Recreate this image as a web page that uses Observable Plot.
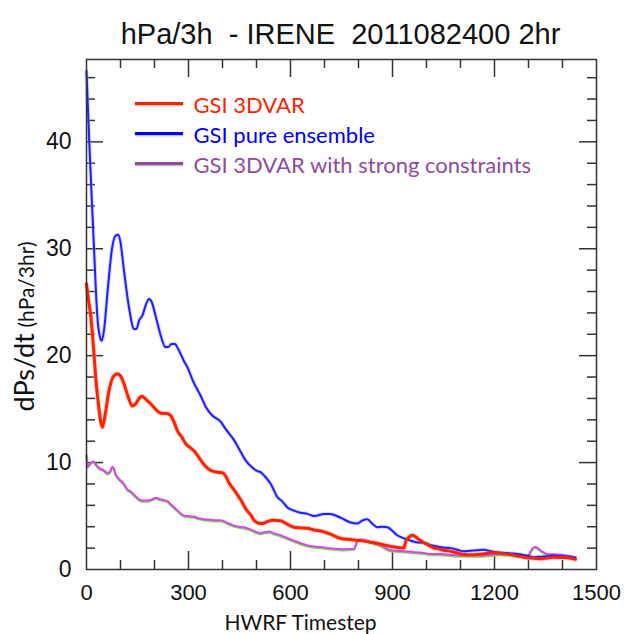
<!DOCTYPE html>
<html><head><meta charset="utf-8">
<script src="https://cdn.jsdelivr.net/npm/d3@7"></script>
<script src="https://cdn.jsdelivr.net/npm/@observablehq/plot@0.6"></script>
<style>
body{margin:0;background:#fff;}
#wrap{position:relative;width:624px;height:634px;overflow:hidden;background:#fff;}
.sw{position:absolute;height:3px;width:48px;box-shadow:0 1px 2px rgba(0,0,0,0.35);}
</style></head><body>
<div id="wrap"></div>
<script>
const titleText = "hPa/3h  - IRENE  2011082400 2hr";
const xLabel = "HWRF Timestep";
const yLabelMain = "dPs/dt";
const yLabelUnit = "(hPa/3hr)";
const seriesNames = ["GSI 3DVAR", "GSI pure ensemble", "GSI 3DVAR with strong constraints"];
const xTicks = [0, 300, 600, 900, 1200, 1500];
const yTicks = [0, 10, 20, 30, 40];

// [timestep, dPs/dt]
const gsi3dvar = [[0,26.7],[6,25.2],[13,23.6],[20,21],[27,18],[35,15.5],[42,13.8],[47,13.3],[55,14.5],[65,16.5],[78,18.0],[91,18.3],[100,18.1],[110,17.4],[122,16.2],[135,15.3],[145,15.5],[155,16.0],[163,16.2],[175,15.9],[189,15.5],[200,15.1],[213,14.7],[225,14.6],[238,14.6],[247,14.4],[253,14.1],[260,13.6],[267,13.0],[280,12.4],[292,11.75],[305,11.4],[316,11.1],[328,10.6],[341,10.0],[355,9.5],[370,9.2],[385,9.1],[400,9.05],[410,8.7],[419,8.1],[435,7.4],[454,6.5],[470,5.6],[483,5.1],[493,4.6],[505,4.35],[517,4.3],[530,4.45],[547,4.6],[571,4.55],[590,4.25],[610,3.95],[630,3.9],[650,3.85],[670,3.7],[689,3.6],[718,3.3],[748,2.9],[777,2.8],[806,2.7],[836,2.55],[855,2.45],[875,2.3],[904,2.1],[934,2.0],[937,2.4],[940,2.7],[948,3.0],[958,3.2],[968,3.05],[978,2.8],[990,2.55],[1002,2.35],[1022,2.0],[1032,1.95],[1050,1.8],[1071,1.7],[1090,1.55],[1110,1.4],[1130,1.38],[1149,1.4],[1175,1.5],[1198,1.6],[1220,1.5],[1247,1.4],[1270,1.25],[1296,1.1],[1315,1.05],[1335,1.0],[1355,1.08],[1374,1.15],[1395,1.12],[1414,1.1],[1438,0.95]];

const pureEnsemble = [[0,46.6],[8,40.1],[15,35],[22,30.1],[32,23.6],[40,21.7],[45,21.4],[52,22.5],[62,26],[75,30],[85,31.2],[93,31.3],[100,30.6],[110,28],[125,24.5],[140,22.5],[147,22.5],[155,23.3],[165,23.8],[175,24.8],[184,25.3],[192,25],[205,23.5],[220,21.7],[232,20.8],[240,20.8],[250,21.1],[260,21.1],[270,20.6],[285,19.6],[297,18.9],[315,17.5],[335,16.3],[351,15.2],[370,14.4],[395,13.8],[410,13.1],[434,12.1],[450,11.2],[468,10.2],[485,9.6],[503,9.2],[512,9.1],[525,8.7],[542,8.0],[561,6.8],[575,6.4],[591,5.8],[610,5.5],[630,5.3],[650,5.2],[669,5.0],[679,5.05],[698,5.2],[715,5.2],[733,5.05],[750,4.8],[777,4.4],[797,4.3],[812,4.6],[826,4.7],[840,4.3],[855,3.95],[870,4.0],[885,3.95],[900,3.6],[914,3.2],[935,2.9],[953,2.7],[970,2.55],[992,2.5],[1010,2.3],[1032,2.15],[1050,2.05],[1071,2.0],[1090,1.85],[1110,1.7],[1130,1.75],[1150,1.8],[1169,1.85],[1190,1.7],[1208,1.6],[1230,1.55],[1250,1.5],[1267,1.45],[1285,1.35],[1296,1.3],[1316,1.15],[1340,1.2],[1374,1.3],[1400,1.25],[1420,1.2],[1438,1.1]];

const strongConstraints = [[0,10.7],[3,9.6],[8,9.8],[14,10.0],[21,10.1],[28,9.8],[37,9.5],[50,9.3],[62,9.0],[70,9.2],[76,9.6],[80,9.5],[86,8.9],[95,8.5],[110,8.0],[120,7.5],[130,7.3],[143,6.9],[155,6.55],[165,6.45],[179,6.45],[192,6.55],[204,6.7],[215,6.6],[226,6.5],[238,6.4],[248,6.1],[258,5.8],[272,5.4],[287,5.05],[300,5.0],[316,4.95],[330,4.8],[346,4.7],[365,4.65],[380,4.6],[395,4.6],[415,4.35],[434,4.1],[450,4.0],[463,3.95],[478,3.8],[493,3.6],[505,3.45],[512,3.4],[525,3.5],[537,3.55],[550,3.4],[571,3.2],[590,2.95],[610,2.7],[630,2.45],[650,2.25],[670,2.15],[689,2.1],[710,2.0],[728,1.95],[750,1.9],[770,1.92],[787,1.95],[792,2.3],[797,2.7],[811,2.8],[825,2.7],[836,2.55],[850,2.4],[865,2.25],[880,2.0],[894,1.8],[915,1.75],[934,1.7],[955,1.65],[973,1.6],[992,1.55],[1012,1.45],[1041,1.45],[1071,1.35],[1100,1.3],[1130,1.3],[1159,1.3],[1190,1.38],[1218,1.45],[1245,1.38],[1267,1.3],[1290,1.2],[1296,1.15],[1303,1.5],[1311,1.95],[1320,2.1],[1328,2.0],[1335,1.8],[1345,1.6],[1355,1.45],[1375,1.42],[1394,1.4],[1415,1.3],[1438,1.15]];

const W = 624, H = 634, mL = 86, mR = 28, mT = 59, mB = 65;
const fw = W - mL - mR, fh = H - mT - mB;
const xMajor = [300, 600, 900, 1200];
const xMinor = d3.range(100, 1500, 100).filter(d => d % 300 !== 0);
const yMajor = [10, 20, 30, 40];
const yMinor = d3.range(2, 48, 2).filter(d => d % 10 !== 0);
const ink = "#333";
const labelFont = "Lato, 'Open Sans', sans-serif";
const colors = ["#ff2200", "#1e1eff", "#dd44ee"];
const legendColors = ["#ff2200", "#0000ff", "#8e4a9e"];
const legendBaselines = [112, 142, 172];

const line = (data, opts) => Plot.line(data, {x: d => d[0], y: d => d[1], curve: "monotone-x", ...opts});

const legendTexts = seriesNames.map((name, i) =>
  Plot.text([name], {frameAnchor: "top-left", text: d => d, fill: legendColors[i], textAnchor: "start", lineAnchor: "bottom",
    fontSize: 22, fontFamily: labelFont, dx: 193 - mL, dy: legendBaselines[i] - mT})
);

const chart = Plot.plot({
  width: W, height: H,
  marginLeft: mL, marginRight: mR, marginTop: mT, marginBottom: mB,
  style: {fontFamily: "'Liberation Sans', Arial, sans-serif", background: "#fff", overflow: "visible"},
  x: {domain: [0, 1500]},
  y: {domain: [0, 47.7]},
  marks: [
    Plot.tickX(xMajor, {x: d => d, insetTop: fh - 18, stroke: ink, strokeWidth: 1.5}),
    Plot.tickX(xMinor, {x: d => d, insetTop: fh - 9, stroke: ink, strokeWidth: 1.5}),
    Plot.tickX(xMajor, {x: d => d, insetBottom: fh - 18, stroke: ink, strokeWidth: 1.5}),
    Plot.tickX(xMinor, {x: d => d, insetBottom: fh - 9, stroke: ink, strokeWidth: 1.5}),
    Plot.tickY(yMajor, {y: d => d, insetRight: fw - 17, stroke: ink, strokeWidth: 1.5}),
    Plot.tickY(yMinor, {y: d => d, insetRight: fw - 9, stroke: ink, strokeWidth: 1.5}),
    Plot.tickY(yMajor, {y: d => d, insetLeft: fw - 17, stroke: ink, strokeWidth: 1.5}),
    Plot.tickY(yMinor, {y: d => d, insetLeft: fw - 9, stroke: ink, strokeWidth: 1.5}),
    Plot.axisX(xTicks, {tickSize: 0, tickPadding: 15, fontSize: 22, fill: "#111", tickFormat: d => String(d)}),
    Plot.axisY(yTicks, {tickSize: 0, tickPadding: 15, fontSize: 23, fill: "#111", tickFormat: d => String(d)}),
    line(gsi3dvar, {stroke: "#ffb0a0", strokeWidth: 5, strokeOpacity: 0.5}),
    line(pureEnsemble, {stroke: "#a8a8ff", strokeWidth: 4, strokeOpacity: 0.45}),
    line(strongConstraints, {stroke: "#77dd55", strokeWidth: 2, dy: 1.2}),
    line(strongConstraints, {stroke: colors[2], strokeWidth: 2}),
    line(pureEnsemble, {stroke: colors[1], strokeWidth: 2}),
    line(gsi3dvar, {stroke: colors[0], strokeWidth: 3}),
    Plot.frame({stroke: ink, strokeWidth: 1.5}),
    Plot.text([titleText], {frameAnchor: "top", dx: -1, dy: 43 - mT, lineAnchor: "bottom", fontSize: 29, fill: "#111", text: d => d}),
    Plot.text([xLabel], {frameAnchor: "bottom", dx: -41, dy: 629 - (H - mB), lineAnchor: "bottom", fontSize: 21, fontFamily: labelFont, fill: "#111", text: d => d}),
    Plot.text([yLabelMain], {frameAnchor: "left", dx: 33 - mL, dy: 411 - (mT + fh / 2), rotate: -90, textAnchor: "start", lineAnchor: "bottom", fontSize: 27, fontFamily: labelFont, fill: "#111", text: d => d}),
    Plot.text([yLabelUnit], {frameAnchor: "left", dx: 33 - mL, dy: 327 - (mT + fh / 2), rotate: -90, textAnchor: "start", lineAnchor: "bottom", fontSize: 21, fontFamily: labelFont, fill: "#111", text: d => d}),
    ...legendTexts
  ]
});

const wrap = document.getElementById("wrap");
wrap.appendChild(chart);
[103, 133, 163].forEach((y, i) => {
  const s = document.createElement("div");
  s.className = "sw";
  s.style.left = "135px"; s.style.top = (y - 1.5) + "px";
  s.style.background = legendColors[i];
  wrap.appendChild(s);
});
</script>
</body></html>
